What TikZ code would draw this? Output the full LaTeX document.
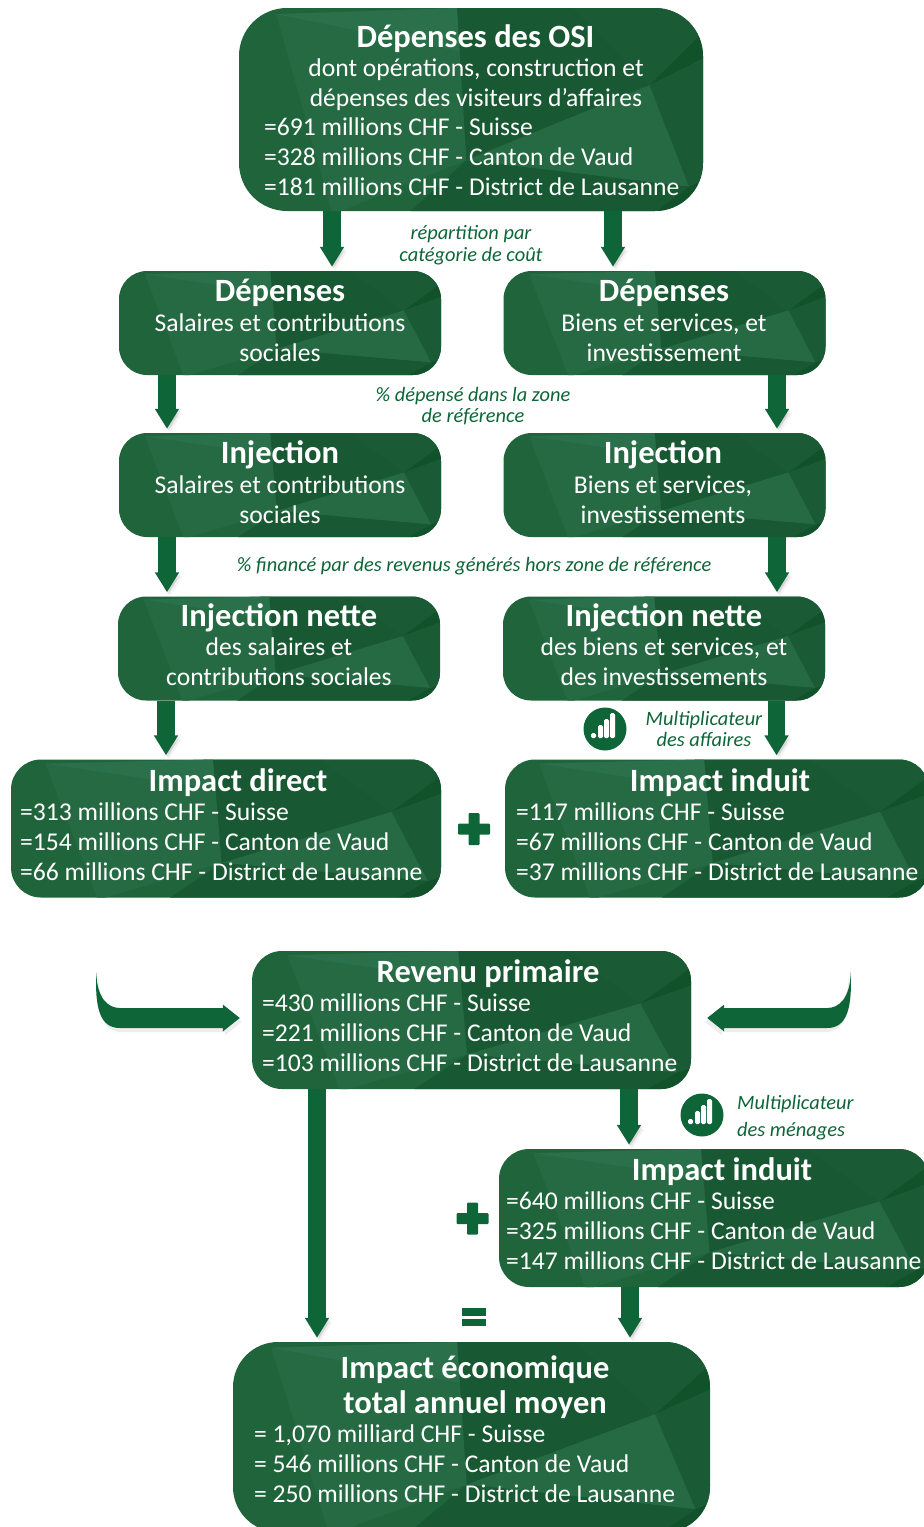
\documentclass[tikz,border=0pt]{standalone}
\usepackage{fontspec}
\setmainfont{Carlito}
\usetikzlibrary{positioning}
\usetikzlibrary{calc}
\usetikzlibrary{arrows.meta}
\definecolor{boxbase}{RGB}{32,100,60}
\definecolor{arrowgreen}{RGB}{14,102,56}
\definecolor{facetA}{RGB}{38,106,68}
\definecolor{facetB}{RGB}{42,112,74}
\definecolor{facetC}{RGB}{26,90,52}
\definecolor{facetD}{RGB}{17,82,43}
\definecolor{facetE}{RGB}{24,88,50}
\newcommand{\Facets}{%
  \path (path picture bounding box.north west);
  \pgfgetlastxy{\FacetAx}{\FacetAy}%
  \path (path picture bounding box.south east);
  \pgfgetlastxy{\FacetBx}{\FacetBy}%
  \pgfmathsetlengthmacro{\FacetW}{\FacetBx-\FacetAx}%
  \pgfmathsetlengthmacro{\FacetH}{\FacetBy-\FacetAy}%
  \begin{scope}[sharp corners,x=\FacetW,y=\FacetH]
    \fill[facetA] (-.42,-.47) -- (-.03,-.5) -- (-.01,-.28) -- (-.01,.25) -- (-.28,.5) -- (-.3,.5) -- cycle;
    \fill[facetB] (-.42,-.47) -- (-.03,-.5) -- (-.01,-.28) -- cycle;
    \fill[facetE] (-.03,-.5) -- (-.01,.25) -- (.385,-.12) -- (.22,-.5) -- cycle;
    \fill[facetC] (.22,-.5) -- (.385,-.12) -- (.5,-.38) -- (.5,-.5) -- cycle;
    \fill[facetD] (.385,-.12) -- (.5,-.25) -- (.5,-.38) -- cycle;
    \fill[facetA] (-.01,.25) -- (.385,-.12) -- (.47,.38) -- cycle;
    \fill[facetE] (-.01,.25) -- (.47,.38) -- (.4,.5) -- (-.13,.5) -- cycle;
    \fill[facetC] (.385,-.12) -- (.5,-.25) -- (.5,.35) -- (.47,.38) -- cycle;
    \fill[facetD] (.47,.38) -- (.5,.35) -- (.5,.5) -- (.4,.5) -- cycle;
  \end{scope}}
\tikzset{
    Box/.style = {fill=boxbase, inner sep=0pt, path picture=\Facets},
    SmallBox/.style = {Box, rounded corners=28pt, minimum width=322pt, minimum height=104pt},
    ImpactBox/.style = {Box, rounded corners=30pt, minimum height=138pt}
}
\tikzset{
    Edge/.style = {draw=arrowgreen, line width=17.5pt, shorten >=4pt,
        -{Triangle[length=20pt,width=23pt]},
        preaction={draw=black, opacity=.05, transform canvas={shift={(3,4)}}},
        preaction={draw=black, opacity=.07, transform canvas={shift={(1.5,2)}}}}
}
\tikzset{
    TitleText/.style = {white, anchor=base, inner sep=0pt, font=\fontsize{32.5}{35}\selectfont\bfseries},
    BodyText/.style = {white, inner sep=0pt, align=left, anchor=base west, font=\fontsize{25.6}{29.9}\selectfont},
    MidText/.style = {BodyText, align=center, anchor=base},
    NoteText/.style = {arrowgreen, inner sep=0pt, align=center, font=\fontsize{20.4}{21.5}\itshape\selectfont},
    IconDot/.style = {circle, fill=arrowgreen, minimum size=43pt, inner sep=0pt},
    bars/.pic = {
        \fill[white,rounded corners=1.5pt] (-14,9) rectangle (-9,4);
        \fill[white,rounded corners=1.5pt] (-7,9) rectangle (-2,-4);
        \fill[white,rounded corners=1.5pt] (-1,9) rectangle (4,-10);
        \fill[white,rounded corners=1.5pt] (5,9) rectangle (10,-16);
    },
    plussign/.pic = {
        \fill[arrowgreen,rounded corners=1pt] (-16,-5.5) rectangle (16,5.5);
        \fill[arrowgreen,rounded corners=1pt] (-5.5,-16) rectangle (5.5,16);
    },
    equalsign/.pic = {
        \fill[arrowgreen] (-12,-9) rectangle (12,-1.5);
        \fill[arrowgreen] (-12,1.5) rectangle (12,9);
    },
    curvedarrow/.pic = {
        \fill[black,opacity=.07,shift={(2,4)}] (-143.5,-46) .. controls (-143,-20) and (-132,-10) .. (-120,-10)
            -- (-17,-10) -- (-17,-13.5) -- (0,0) -- (-17,13.5) -- (-17,10) -- (-120,10)
            .. controls (-140,10) and (-145,-10) .. cycle;
        \fill[arrowgreen] (-143.5,-46) .. controls (-143,-20) and (-132,-10) .. (-120,-10)
            -- (-17,-10) -- (-17,-13.5) -- (0,0) -- (-17,13.5) -- (-17,10) -- (-120,10)
            .. controls (-140,10) and (-145,-10) .. cycle;
    }
}

\begin{document}
\begin{tikzpicture}[x=1pt,y=-1pt]
\clip (0,0) rectangle (924,1527);

\node[Box,rounded corners=48pt,minimum width=464pt,minimum height=203pt] at (471,109.5) (osi) {};
\node[SmallBox] at (280,323) (depA) {};
\node[SmallBox] at (664.5,323) (depB) {};
\node[SmallBox] at (280,485) (injA) {};
\node[SmallBox] at (664.5,485) (injB) {};
\node[SmallBox] at (279,648.5) (netA) {};
\node[SmallBox] at (664,648.5) (netB) {};
\node[ImpactBox,minimum width=430pt] at (226,828.5) (direct) {};
\node[ImpactBox,minimum width=424pt] at (717,828.5) (induitA) {};
\node[ImpactBox,minimum width=439pt] at (471.5,1020) (revenu) {};
\node[ImpactBox,minimum width=430pt] at (714,1218) (induitB) {};
\node[Box,rounded corners=45pt,minimum width=477pt,minimum height=190pt] at (471.5,1437) (total) {};

\node[TitleText] at (475.5,47) (osiT) {Dépenses des OSI};
\node[MidText] at (476,106) (osiM) {dont opérations, construction et\\dépenses des visiteurs d’affaires};
\node[BodyText] at (264,195) (osiL) {=691 millions CHF - Suisse\\=328 millions CHF - Canton de Vaud\\=181 millions CHF - District de Lausanne};

\node[TitleText] at (280,301) (depAT) {Dépenses};
\node[MidText] at (280,361) (depAL) {Salaires et contributions\\sociales};
\node[TitleText] at (664,301) (depBT) {Dépenses};
\node[MidText] at (664,361) (depBL) {Biens et services, et\\investissement};

\node[TitleText] at (280,463) (injAT) {Injection};
\node[MidText] at (280,523) (injAL) {Salaires et contributions\\sociales};
\node[TitleText] at (663,463) (injBT) {Injection};
\node[MidText] at (663,523) (injBL) {Biens et services,\\investissements};

\node[TitleText] at (279,626) (netAT) {Injection nette};
\node[MidText] at (279,685) (netAL) {des salaires et\\contributions sociales};
\node[TitleText] at (664,626) (netBT) {Injection nette};
\node[MidText] at (664,685) (netBL) {des biens et services, et\\des investissements};

\node[TitleText] at (238,791) (directT) {Impact direct};
\node[BodyText] at (20,880) (directL) {=313 millions CHF - Suisse\\=154 millions CHF - Canton de Vaud\\=66 millions CHF - District de Lausanne};
\node[TitleText] at (720,791) (induitAT) {Impact induit};
\node[BodyText] at (516,880) (induitAL) {=117 millions CHF - Suisse\\=67 millions CHF - Canton de Vaud\\=37 millions CHF - District de Lausanne};

\node[TitleText] at (488,982) (revenuT) {Revenu primaire};
\node[BodyText] at (262,1071) (revenuL) {=430 millions CHF - Suisse\\=221 millions CHF - Canton de Vaud\\=103 millions CHF - District de Lausanne};

\node[TitleText] at (722,1180) (induitBT) {Impact induit};
\node[BodyText] at (506,1269) (induitBL) {=640 millions CHF - Suisse\\=325 millions CHF - Canton de Vaud\\=147 millions CHF - District de Lausanne};

\node[TitleText] at (475,1378) (totalT) {Impact économique};
\node[TitleText] at (475,1413) (totalU) {total annuel moyen};
\node[BodyText] at (254,1502) (totalL) {= 1,070 milliard CHF - Suisse\\= 546 millions CHF - Canton de Vaud\\= 250 millions CHF - District de Lausanne};

\node[NoteText] at (471,245) (noteA) {répartition par\\catégorie de coût};
\node[NoteText] at (473,406) (noteB) {\% dépensé dans la zone\\de référence};
\node[NoteText] at (474,566) (noteC) {\% financé par des revenus générés hors zone de référence};
\node[NoteText] at (704,729) (noteD) {Multiplicateur\\des affaires};
\node[NoteText,align=left,font=\fontsize{20.4}{27}\itshape\selectfont,anchor=west] at (737,1118) (noteE) {Multiplicateur\\des ménages};

\node[IconDot] at (605,729) (iconA) {};
\pic at (iconA) {bars};
\node[IconDot] at (702,1115) (iconB) {};
\pic at (iconB) {bars};

\coordinate (plusA) at (474,829);
\pic at (plusA) {plussign};
\coordinate (plusB) at (472.5,1218.5);
\pic at (plusB) {plussign};
\coordinate (equalA) at (474,1317);
\pic at (equalA) {equalsign};

\coordinate (inL) at ($(revenu.west)+(-12,-2)$);
\coordinate (inR) at ($(revenu.east)+(16,-2)$);
\pic at (inL) {curvedarrow};
\pic[xscale=-1] at (inR) {curvedarrow};

\path (osi.south -| 332,0) edge [Edge] (depA.north -| 332,0);
\path (osi.south -| 613,0) edge [Edge] (depB.north -| 613,0);
\path (depA.south -| 167,0) edge [Edge] (injA.north -| 167,0);
\path (depB.south -| 777,0) edge [Edge] (injB.north -| 777,0);
\path (injA.south -| 167,0) edge [Edge] (netA.north -| 167,0);
\path (injB.south -| 777,0) edge [Edge] (netB.north -| 777,0);
\path (netA.south -| 166,0) edge [Edge] (direct.north -| 166,0);
\path (netB.south -| 776.5,0) edge [Edge] (induitA.north -| 776.5,0);
\path (revenu.south -| 317,0) edge [Edge] (total.north -| 317,0);
\path (revenu.south -| 629,0) edge [Edge] (induitB.north -| 629,0);
\path (induitB.south -| 630,0) edge [Edge] (total.north -| 630,0);
\end{tikzpicture}
\end{document}
